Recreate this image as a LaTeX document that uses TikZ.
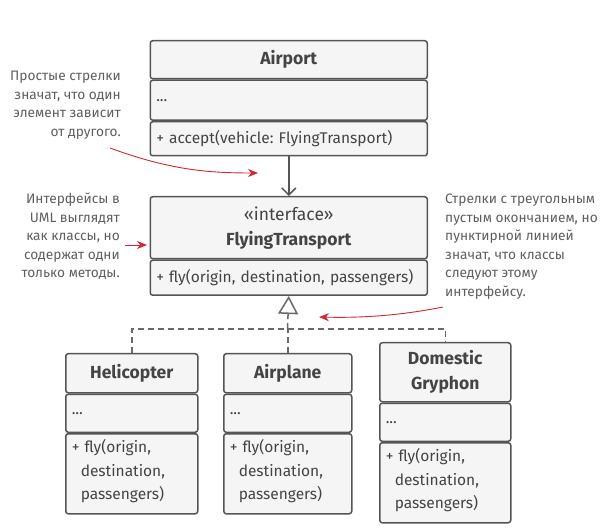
\documentclass[tikz,border=0pt]{standalone}
\usepackage{fontspec}
\setmainfont{Fira Sans}
\usetikzlibrary{positioning,arrows.meta}
\definecolor{boxline}{RGB}{85,85,85}
\definecolor{boxfill}{RGB}{245,245,245}
\definecolor{boxtext}{RGB}{68,68,68}
\definecolor{notetext}{RGB}{95,95,95}
\definecolor{notered}{RGB}{208,40,50}
\definecolor{dashline}{RGB}{105,105,105}
\frenchspacing

\begin{document}
\begin{tikzpicture}[x=1pt, y=-1pt,
  part/.style={draw=boxline, fill=boxfill, line width=1.5pt, rounded corners=2.5pt,
    text=boxtext, inner xsep=6pt, inner ysep=0pt},
  head/.style={part, font=\fontsize{17.5}{25}\selectfont\bfseries, align=center},
  sect/.style={part, font=\fontsize{15.5}{23.5}\selectfont, align=left},
  note/.style={text=notetext, font=\fontsize{13.7}{18.5}\selectfont, inner sep=0pt},
  hint/.style={draw=notered, line width=0.9pt, -{Stealth[length=10pt,width=8pt]}},
  uses/.style={draw=boxline, line width=1.5pt,
    -{Straight Barb[length=7pt,width=14pt,line width=1.5pt]}},
  realizes/.style={draw=dashline, line width=1.5pt, dash pattern=on 6pt off 4pt},
]
\useasboundingbox (0,0) rectangle (608,529);

% Airport
\node[head, minimum width=277pt, minimum height=38pt, anchor=north west] (airport) at (149.5,40) {Airport};
\node[sect, text width=265pt, minimum height=40pt, below=0pt of airport] (airport attr) {...};
\node[sect, text width=265pt, minimum height=34pt, below=0pt of airport attr] (airport ops) {+ accept(vehicle: FlyingTransport)};

% interface
\node[head, minimum width=277pt, minimum height=62pt, anchor=north west] (ft) at (149.5,196)
  {{\mdseries «interface»}\\FlyingTransport};
\node[sect, text width=265pt, minimum height=35pt, below=0pt of ft] (ft ops) {+ fly(origin, destination, passengers)};

% classes
\node[head, minimum width=132pt, minimum height=39pt, anchor=north west] (heli) at (65,353) {Helicopter};
\node[sect, text width=120pt, minimum height=38pt, below=0pt of heli] (heli attr) {...};
\node[sect, text width=120pt, minimum height=80pt, below=0pt of heli attr] (heli ops)
  {+ fly(origin,\\\hspace*{9pt}destination,\\\hspace*{9pt}passengers)\vspace*{5pt}};

\node[head, minimum width=128pt, minimum height=39pt, anchor=north west] (plane) at (223,353) {Airplane};
\node[sect, text width=116pt, minimum height=38pt, below=0pt of plane] (plane attr) {...};
\node[sect, text width=116pt, minimum height=80pt, below=0pt of plane attr] (plane ops)
  {+ fly(origin,\\\hspace*{9pt}destination,\\\hspace*{9pt}passengers)\vspace*{5pt}};

\node[head, minimum width=131pt, minimum height=59pt, anchor=north west] (gry) at (379,342) {Domestic\\Gryphon};
\node[sect, text width=119pt, minimum height=38pt, below=0pt of gry] (gry attr) {...};
\node[sect, text width=119pt, minimum height=80pt, below=0pt of gry attr] (gry ops)
  {+ fly(origin,\\\hspace*{9pt}destination,\\\hspace*{9pt}passengers)\vspace*{5pt}};

% relations
\coordinate (hub) at (287.5,329);
\draw[uses] (airport ops) -- (ft);
\draw[realizes] (heli.north) |- (hub) -| (gry.north);
\draw[realizes] (plane.north) -- (plane.north |- hub);
\draw[realizes, -{Triangle[open, length=18pt, width=20pt, line width=1.5pt]}] (hub) -- (ft ops.south);

% notes
\node[note, align=right, anchor=north east] (noteA) at (121,71)
  {Простые стрелки\\значат, что один\\элемент зависит\\от другого.};
\node[note, align=right, anchor=north east] (noteB) at (120,193)
  {Интерфейсы в\\UML выглядят\\как классы, но\\содержат одни\\только методы.};
\node[note, align=left, anchor=north west] (noteC) at (445,194)
  {Стрелки с треугольным\\пустым окончанием, но\\пунктирной линией\\значат, что классы\\следуют этому\\интерфейсу.};

\coordinate (hintA from) at (110,148);
\coordinate (hintA to) at (258,173);
\coordinate (hintB from) at (125,245);
\coordinate (hintB to) at (147,245);
\coordinate (hintC from) at (443,307);
\coordinate (hintC to) at (319,317);
\draw[hint] (hintA from) .. controls +(60,22) and +(-50,0) .. (hintA to);
\draw[hint] (hintB from) -- (hintB to);
\draw[hint] (hintC from) .. controls +(-45,9) and +(40,1) .. (hintC to);
\end{tikzpicture}
\end{document}
